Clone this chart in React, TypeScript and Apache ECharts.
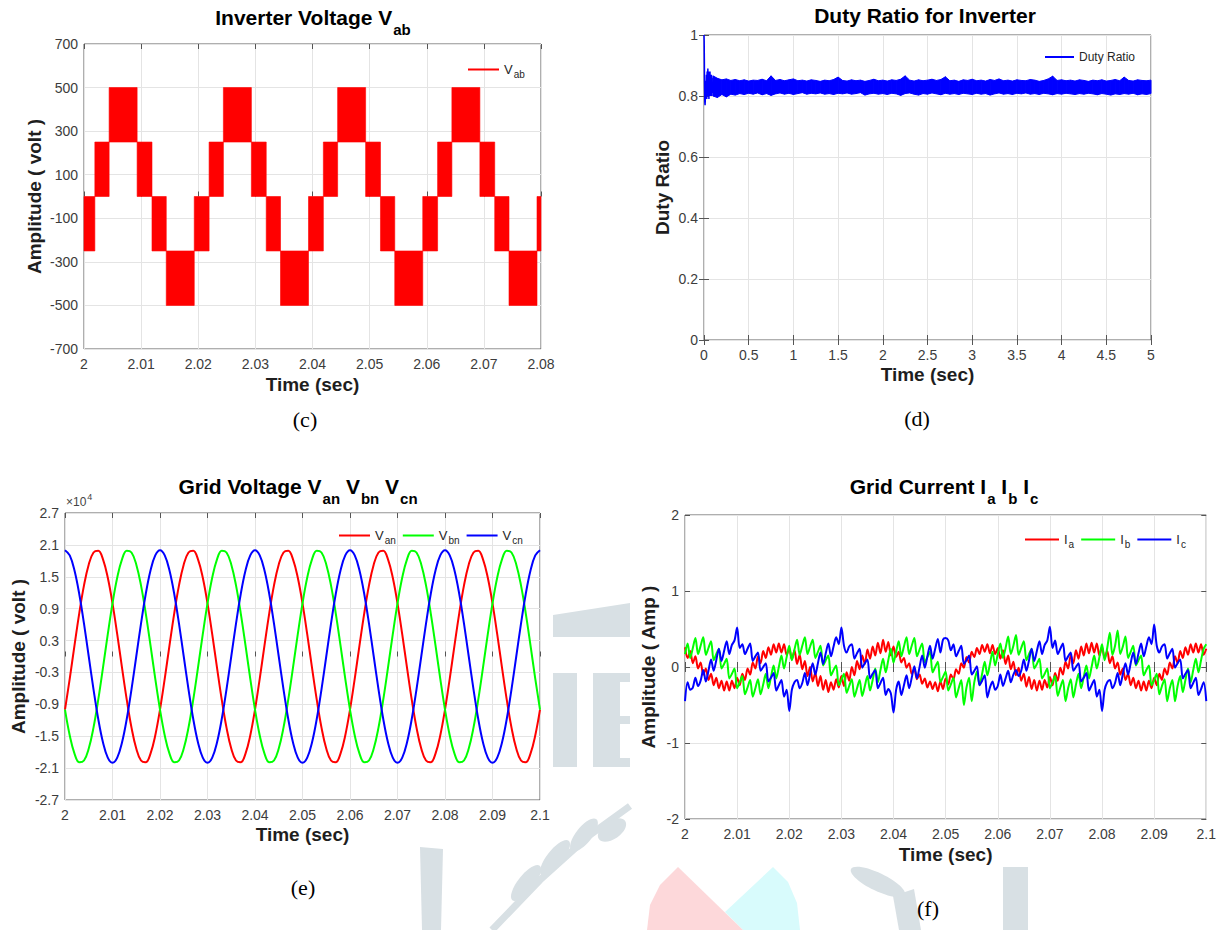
import React, { useEffect, useRef } from 'react';
import * as echarts from 'echarts';

const FONT = "'Liberation Sans', Arial, Helvetica, sans-serif";
const SERIF = "'Liberation Serif', 'Times New Roman', serif";

// ---------- (c) Inverter voltage Vab : PWM level bands ----------
const vabStart = [2.0, 2.0019, 2.0044, 2.0093, 2.0119, 2.0144, 2.0193, 2.0219, 2.0244, 2.0293, 2.0319, 2.0344, 2.0393, 2.0419, 2.0444, 2.0493, 2.0519, 2.0544, 2.0593, 2.0619, 2.0644, 2.0693, 2.0719, 2.0744, 2.0793];
const vabEnd = [2.0019, 2.0044, 2.0093, 2.0119, 2.0144, 2.0193, 2.0219, 2.0244, 2.0293, 2.0319, 2.0344, 2.0393, 2.0419, 2.0444, 2.0493, 2.0519, 2.0544, 2.0593, 2.0619, 2.0644, 2.0693, 2.0719, 2.0744, 2.0793, 2.08];
const vabLow = [-250, 0, 250, 0, -250, -500, -250, 0, 250, 0, -250, -500, -250, 0, 250, 0, -250, -500, -250, 0, 250, 0, -250, -500, -250];
const vabHigh = [0, 250, 500, 250, 0, -250, 0, 250, 500, 250, 0, -250, 0, 250, 500, 250, 0, -250, 0, 250, 500, 250, 0, -250, 0];

// ---------- (d) Duty ratio ----------
const dutyTransT = [0, 0.002, 0.004, 0.006, 0.009, 0.012, 0.015, 0.019, 0.023, 0.027, 0.031, 0.035, 0.039, 0.043, 0.047, 0.051, 0.055, 0.059, 0.063, 0.067, 0.071, 0.075, 0.079, 0.083, 0.087, 0.091, 0.095, 0.1];
const dutyTransV = [1.0, 0.98, 0.92, 0.84, 0.78, 0.77, 0.79, 0.85, 0.8, 0.87, 0.79, 0.88, 0.8, 0.89, 0.81, 0.88, 0.79, 0.87, 0.81, 0.88, 0.8, 0.86, 0.81, 0.87, 0.8, 0.86, 0.81, 0.84];
const dutyBandT0 = 0.1;
const dutyBandStep = 0.05;
const dutyHigh = [
  0.866, 0.858, 0.853, 0.856, 0.851, 0.854, 0.85, 0.853, 0.849, 0.852, 0.851, 0.855, 0.85, 0.866, 0.851, 0.854, 0.85, 0.853,
  0.856, 0.85, 0.852, 0.849, 0.853, 0.851, 0.848, 0.852, 0.85, 0.854, 0.862, 0.851, 0.849, 0.853, 0.85, 0.852, 0.848, 0.851, 0.855, 0.85,
  0.852, 0.849, 0.853, 0.851, 0.855, 0.866, 0.852, 0.849, 0.853, 0.85, 0.852, 0.855, 0.851, 0.854, 0.863, 0.85, 0.852, 0.848, 0.853, 0.851,
  0.855, 0.85, 0.852, 0.849, 0.854, 0.851, 0.856, 0.85, 0.852, 0.849, 0.853, 0.851, 0.85, 0.854, 0.852, 0.848, 0.851, 0.856, 0.865, 0.851,
  0.853, 0.85, 0.852, 0.849, 0.853, 0.851, 0.848, 0.852, 0.85, 0.853, 0.849, 0.851, 0.854, 0.85, 0.862, 0.851, 0.849, 0.853, 0.851, 0.85, 0.852,
];
const dutyLow = [
  0.8, 0.795, 0.805, 0.797, 0.806, 0.803, 0.808, 0.805, 0.809, 0.806, 0.81, 0.804, 0.808, 0.802, 0.807, 0.81, 0.806, 0.809,
  0.805, 0.808, 0.811, 0.806, 0.809, 0.807, 0.81, 0.806, 0.808, 0.805, 0.809, 0.807, 0.81, 0.806, 0.808, 0.811, 0.803, 0.807, 0.809, 0.806,
  0.808, 0.805, 0.809, 0.807, 0.802, 0.808, 0.81, 0.806, 0.803, 0.808, 0.806, 0.81, 0.807, 0.804, 0.809, 0.806, 0.808, 0.805, 0.809, 0.807,
  0.805, 0.809, 0.806, 0.808, 0.803, 0.807, 0.81, 0.806, 0.808, 0.805, 0.809, 0.807, 0.81, 0.806, 0.808, 0.805, 0.809, 0.807, 0.804, 0.808,
  0.806, 0.809, 0.807, 0.805, 0.808, 0.806, 0.809, 0.807, 0.804, 0.808, 0.806, 0.803, 0.807, 0.805, 0.808, 0.806, 0.809, 0.804, 0.807, 0.805, 0.808,
];

// ---------- (e) Grid voltages (volts), sampled every 1 ms from t = 2.000 s ----------
const gridVT0 = 2.0;
const gridVStep = 0.001;
const van = [
  -10000, -4160, 2090, 8130, 13380, 17320, 19560, 19890, 18270, 14860, 10000, 4160, -2090, -8130, -13380, -17320, -19560, -19890, -18270, -14860,
  -10000, -4160, 2090, 8130, 13380, 17320, 19560, 19890, 18270, 14860, 10000, 4160, -2090, -8130, -13380, -17320, -19560, -19890, -18270, -14860,
  -10000, -4160, 2090, 8130, 13380, 17320, 19560, 19890, 18270, 14860, 10000, 4160, -2090, -8130, -13380, -17320, -19560, -19890, -18270, -14860,
  -10000, -4160, 2090, 8130, 13380, 17320, 19560, 19890, 18270, 14860, 10000, 4160, -2090, -8130, -13380, -17320, -19560, -19890, -18270, -14860,
  -10000, -4160, 2090, 8130, 13380, 17320, 19560, 19890, 18270, 14860, 10000, 4160, -2090, -8130, -13380, -17320, -19560, -19890, -18270, -14860,
  -10000,
];
const vbn = [
  -10000, -14860, -18270, -19890, -19560, -17320, -13380, -8130, -2090, 4160, 10000, 14860, 18270, 19890, 19560, 17320, 13380, 8130, 2090, -4160,
  -10000, -14860, -18270, -19890, -19560, -17320, -13380, -8130, -2090, 4160, 10000, 14860, 18270, 19890, 19560, 17320, 13380, 8130, 2090, -4160,
  -10000, -14860, -18270, -19890, -19560, -17320, -13380, -8130, -2090, 4160, 10000, 14860, 18270, 19890, 19560, 17320, 13380, 8130, 2090, -4160,
  -10000, -14860, -18270, -19890, -19560, -17320, -13380, -8130, -2090, 4160, 10000, 14860, 18270, 19890, 19560, 17320, 13380, 8130, 2090, -4160,
  -10000, -14860, -18270, -19890, -19560, -17320, -13380, -8130, -2090, 4160, 10000, 14860, 18270, 19890, 19560, 17320, 13380, 8130, 2090, -4160,
  -10000,
];
const vcn = [
  20000, 19020, 16180, 11760, 6180, 0, -6180, -11760, -16180, -19020, -20000, -19020, -16180, -11760, -6180, 0, 6180, 11760, 16180, 19020,
  20000, 19020, 16180, 11760, 6180, 0, -6180, -11760, -16180, -19020, -20000, -19020, -16180, -11760, -6180, 0, 6180, 11760, 16180, 19020,
  20000, 19020, 16180, 11760, 6180, 0, -6180, -11760, -16180, -19020, -20000, -19020, -16180, -11760, -6180, 0, 6180, 11760, 16180, 19020,
  20000, 19020, 16180, 11760, 6180, 0, -6180, -11760, -16180, -19020, -20000, -19020, -16180, -11760, -6180, 0, 6180, 11760, 16180, 19020,
  20000, 19020, 16180, 11760, 6180, 0, -6180, -11760, -16180, -19020, -20000, -19020, -16180, -11760, -6180, 0, 6180, 11760, 16180, 19020,
  20000,
];

// ---------- (f) Grid currents (A), sampled every 0.5 ms from t = 2.000 s ----------
const gridIT0 = 2.0;
const gridIStep = 0.0005;
const ia = [
  0.26, 0.12, 0.21, 0.05, 0.14, -0.02, 0.06, -0.1, -0.02, -0.17, -0.09, -0.24, -0.14, -0.28, -0.18, -0.31, -0.19, -0.31, -0.18, -0.28, -0.14, -0.24, -0.09, -0.17, -0.02, -0.1, 0.06, -0.02, 0.14, 0.05, 0.21, 0.12, 0.26, 0.16, 0.3, 0.19, 0.31, 0.19, 0.3, 0.16,
  0.24, 0.1, 0.22, 0.04, 0.16, -0.03, 0.08, -0.12, 0, -0.19, -0.08, -0.25, -0.12, -0.3, -0.17, -0.33, -0.2, -0.3, -0.16, -0.27, -0.12, -0.25, -0.07, -0.18, 0, -0.11, 0.08, -0.03, 0.15, 0.04, 0.23, 0.11, 0.27, 0.15, 0.32, 0.18, 0.36, 0.2, 0.33, 0.15,
  0.27, 0.13, 0.2, 0.06, 0.12, -0.01, 0.05, -0.09, -0.03, -0.16, -0.1, -0.22, -0.15, -0.27, -0.19, -0.29, -0.2, -0.32, -0.19, -0.29, -0.15, -0.23, -0.1, -0.16, -0.03, -0.09, 0.05, -0.01, 0.13, 0.06, 0.2, 0.13, 0.25, 0.17, 0.29, 0.2, 0.3, 0.18, 0.29, 0.17,
  0.25, 0.11, 0.22, 0.04, 0.15, -0.03, 0.07, -0.11, -0.01, -0.18, -0.09, -0.26, -0.13, -0.29, -0.17, -0.31, -0.18, -0.3, -0.17, -0.27, -0.13, -0.24, -0.08, -0.18, -0.01, -0.1, 0.07, -0.02, 0.15, 0.05, 0.22, 0.11, 0.27, 0.15, 0.31, 0.18, 0.32, 0.19, 0.31, 0.15,
  0.26, 0.12, 0.21, 0.05, 0.14, -0.02, 0.06, -0.1, -0.02, -0.17, -0.09, -0.24, -0.14, -0.28, -0.18, -0.31, -0.19, -0.31, -0.18, -0.28, -0.14, -0.24, -0.09, -0.17, -0.02, -0.1, 0.06, -0.02, 0.14, 0.05, 0.21, 0.12, 0.26, 0.16, 0.3, 0.19, 0.31, 0.19, 0.3, 0.16,
  0.24,
];
const ib = [
  0.17, 0.31, 0.12, 0.25, 0.38, 0.17, 0.28, 0.39, 0.16, 0.25, 0.34, 0.09, 0.17, 0.24, -0.02, 0.04, 0.11, -0.15, -0.09, -0.02, -0.28, -0.2, -0.12, -0.36, -0.27, -0.17, -0.39, -0.28, -0.16, -0.36, -0.23, -0.09, -0.28, -0.13, 0.02, -0.15, 0, 0.15, -0.02, 0.13,
  0.28, 0.09, 0.23, 0.36, 0.16, 0.28, 0.39, 0.17, 0.27, 0.36, 0.12, 0.2, 0.28, 0.02, 0.09, 0.15, -0.11, -0.04, 0.02, -0.24, -0.17, -0.09, -0.34, -0.25, -0.16, -0.39, -0.28, -0.17, -0.38, -0.25, -0.12, -0.31, -0.17, -0.02, -0.2, -0.04, 0.11, -0.07, 0.09, 0.24,
  0.06, 0.2, 0.34, 0.14, 0.27, 0.39, 0.17, 0.28, 0.38, 0.14, 0.23, 0.31, 0.06, 0.13, 0.2, -0.07, 0, 0.07, -0.2, -0.13, -0.06, -0.31, -0.23, -0.14, -0.4, -0.28, -0.17, -0.5, -0.27, -0.14, -0.45, -0.2, -0.06, -0.24, -0.09, 0.07, -0.11, 0.04, 0.2, 0.02,
  0.17, 0.31, 0.12, 0.25, 0.4, 0.17, 0.28, 0.42, 0.16, 0.25, 0.34, 0.09, 0.17, 0.24, -0.02, 0.04, 0.11, -0.15, -0.09, -0.02, -0.28, -0.2, -0.12, -0.38, -0.27, -0.17, -0.45, -0.28, -0.16, -0.4, -0.23, -0.09, -0.28, -0.13, 0.02, -0.15, 0, 0.15, -0.02, 0.13,
  0.3, 0.09, 0.25, 0.45, 0.16, 0.28, 0.48, 0.17, 0.27, 0.4, 0.12, 0.2, 0.28, 0.02, 0.09, 0.15, -0.11, -0.04, 0.02, -0.24, -0.17, -0.09, -0.36, -0.25, -0.16, -0.45, -0.28, -0.17, -0.45, -0.25, -0.12, -0.33, -0.17, -0.02, -0.2, -0.04, 0.11, -0.07, 0.09, 0.24,
  0.3,
];
const ic = [
  -0.45, -0.2, -0.3, -0.27, -0.14, -0.25, -0.18, -0.04, -0.19, -0.05, 0.1, -0.05, 0.09, 0.24, 0.08, 0.21, 0.34, 0.17, 0.29, 0.35, 0.52, 0.25, 0.3, 0.17, 0.24, 0.31, 0.08, 0.14, 0.19, -0.05, 0, 0.05, -0.19, -0.14, -0.08, -0.31, -0.24, -0.17, -0.39, -0.3,
  -0.58, -0.3, -0.2, -0.17, -0.28, -0.21, -0.08, -0.24, -0.09, 0.05, -0.1, 0.05, 0.19, 0.04, 0.18, 0.31, 0.14, 0.27, 0.39, 0.3, 0.52, 0.28, 0.19, 0.27, 0.3, 0.11, 0.18, 0.24, -0.01, 0.05, 0.1, -0.15, -0.09, -0.04, -0.28, -0.21, -0.14, -0.37, -0.29, -0.35,
  -0.6, -0.3, -0.19, -0.37, -0.24, -0.11, -0.28, -0.14, 0.01, -0.15, 0, 0.15, -0.01, 0.14, 0.28, 0.11, 0.24, 0.37, 0.19, 0.36, 0.38, 0.35, 0.22, 0.3, 0.14, 0.21, 0.28, 0.04, 0.09, 0.15, -0.1, -0.05, 0.01, -0.24, -0.18, -0.11, -0.4, -0.27, -0.19, -0.3,
  -0.25, -0.1, -0.25, -0.15, -0.05, -0.2, -0.1, -0.04, -0.12, -0.05, 0.1, -0.05, 0.09, 0.24, 0.08, 0.21, 0.34, 0.17, 0.29, 0.35, 0.53, 0.25, 0.35, 0.17, 0.24, 0.31, 0.08, 0.14, 0.19, -0.05, 0, 0.05, -0.19, -0.14, -0.08, -0.31, -0.24, -0.17, -0.39, -0.3,
  -0.58, -0.3, -0.2, -0.17, -0.28, -0.21, -0.08, -0.24, -0.09, 0.05, -0.1, 0.05, 0.19, 0.04, 0.18, 0.31, 0.14, 0.27, 0.39, 0.3, 0.56, 0.28, 0.19, 0.27, 0.3, 0.11, 0.18, 0.24, -0.01, 0.05, 0.1, -0.15, -0.09, -0.04, -0.28, -0.21, -0.14, -0.37, -0.29, -0.2,
  -0.45,
];

const RED = '#ff0000';
const GREEN = '#00ff00';
const BLUE = '#0000ff';

function pairs(t0: number, step: number, vals: number[]) {
  return vals.map((v, i) => [Number((t0 + i * step).toFixed(6)), v]);
}

const tickLabel = { color: '#3c3c3c', fontSize: 14, fontFamily: FONT };
const nameStyle = { color: '#1e1e1e', fontSize: 19, fontWeight: 'bold', fontFamily: FONT };
const gridLine = { show: true, lineStyle: { color: '#e4e4e4', width: 1 } };
const tickStyle = { show: true, inside: true, length: 5, lineStyle: { color: '#555', width: 1 } };

function xBottom(gridIndex: number, min: number, max: number, interval: number, gap: number) {
  return {
    type: 'value', gridIndex, min, max, interval, position: 'bottom',
    axisLine: { show: false }, axisTick: tickStyle,
    axisLabel: { ...tickLabel, margin: 8 },
    splitLine: gridLine,
    name: 'Time (sec)', nameLocation: 'middle', nameGap: gap, nameTextStyle: nameStyle,
  };
}
function xTop(gridIndex: number, min: number, max: number, interval: number) {
  return {
    type: 'value', gridIndex, min, max, interval, position: 'top',
    axisLine: { show: false }, axisTick: tickStyle, axisLabel: { show: false }, splitLine: { show: false },
  };
}

const legendRich = {
  m: { fontSize: 13, color: '#262626', fontFamily: FONT, lineHeight: 14, verticalAlign: 'top' },
  s: { fontSize: 10, color: '#262626', fontFamily: FONT, lineHeight: 10, verticalAlign: 'top', padding: [7, 0, 0, 1] },
};
const titleRich = {
  m: { fontSize: 21, fontWeight: 'bold', fontFamily: FONT, lineHeight: 26, verticalAlign: 'top', fill: '#000', color: '#000' },
  s: { fontSize: 15, fontWeight: 'bold', fontFamily: FONT, lineHeight: 16, verticalAlign: 'top', padding: [15, 0, 0, 1], fill: '#000', color: '#000' },
};

function titleText(x: number, y: number, text: string) {
  return {
    type: 'text', x, y, silent: true, z: 10,
    style: { text, rich: titleRich, align: 'center', textAlign: 'center', verticalAlign: 'top', textVerticalAlign: 'top', fill: '#000', font: `bold 21px ${FONT}` },
  };
}
function caption(x: number, y: number, text: string) {
  return {
    type: 'text', x, y, silent: true, z: 10,
    style: { text, font: `22px ${SERIF}`, fill: '#000', align: 'center', textAlign: 'center', verticalAlign: 'middle', textVerticalAlign: 'middle' },
  };
}

const WM_GRAY = '#d8e0e4';
const watermark: any[] = [
  { type: 'polygon', shape: { points: [[553, 615], [630, 603], [630, 637], [553, 637]] } },
  { type: 'rect', shape: { x: 553, y: 673, width: 24, height: 94 } },
  { type: 'rect', shape: { x: 593, y: 673, width: 27, height: 94 } },
  { type: 'rect', shape: { x: 620, y: 673, width: 10, height: 9 } },
  { type: 'rect', shape: { x: 620, y: 716, width: 10, height: 8 } },
  { type: 'rect', shape: { x: 620, y: 758, width: 10, height: 9 } },
  { type: 'polygon', shape: { points: [[420, 847], [443, 849], [441, 930], [422, 930]] } },
  { type: 'polyline', shape: { points: [[492, 930], [540, 880], [590, 835], [630, 806]] }, style: { stroke: WM_GRAY, lineWidth: 7, fill: null } },
  { type: 'ellipse', x: 526, y: 883, rotation: 0.9, shape: { cx: 0, cy: 0, rx: 22, ry: 8 } },
  { type: 'ellipse', x: 555, y: 858, rotation: 0.9, shape: { cx: 0, cy: 0, rx: 22, ry: 8 } },
  { type: 'ellipse', x: 584, y: 835, rotation: 0.9, shape: { cx: 0, cy: 0, rx: 20, ry: 8 } },
  { type: 'ellipse', x: 612, y: 830, rotation: 0.6, shape: { cx: 0, cy: 0, rx: 16, ry: 9 } },
  { type: 'ellipse', x: 878, y: 882, rotation: -0.45, shape: { cx: 0, cy: 0, rx: 30, ry: 9 } },
  { type: 'polygon', shape: { points: [[893, 896], [914, 889], [921, 930], [899, 930]] } },
  { type: 'rect', shape: { x: 1003, y: 867, width: 25, height: 63 } },
].map((e) => ({ silent: true, z: 0, ...e, style: { fill: WM_GRAY, ...(e.style || {}) } }));
watermark.push(
  { type: 'polygon', silent: true, z: 0, shape: { points: [[773, 867], [788, 882], [797, 903], [800, 930], [743, 930], [725, 912]] }, style: { fill: '#d8fbfc' } },
  { type: 'polygon', silent: true, z: 1, shape: { points: [[678, 867], [743, 930], [647, 930], [650, 905], [660, 885]] }, style: { fill: '#fdd8da' } },
);

function buildOption() {
  const vabData = vabStart.map((s, i) => [s, vabEnd[i], vabLow[i], vabHigh[i]]);
  const bandData: number[][] = [];
  for (let i = 0; i < dutyHigh.length - 1; i++) {
    const t0 = Number((dutyBandT0 + i * dutyBandStep).toFixed(4));
    const t1 = Number((dutyBandT0 + (i + 1) * dutyBandStep).toFixed(4));
    bandData.push([t0, dutyLow[i], dutyHigh[i], t1, dutyLow[i + 1], dutyHigh[i + 1]]);
  }
  const transData = dutyTransT.map((t, i) => [t, dutyTransV[i]]);

  const lineBase = { type: 'line', showSymbol: false, symbol: 'none', z: 3 };

  return {
    animation: false,
    backgroundColor: '#ffffff',
    textStyle: { fontFamily: FONT },
    grid: [
      { left: 84, top: 44, width: 457, height: 305, show: true, borderColor: '#5e5e5e', borderWidth: 1, backgroundColor: 'transparent' },
      { left: 704, top: 35, width: 447, height: 305, show: true, borderColor: '#5e5e5e', borderWidth: 1, backgroundColor: 'transparent' },
      { left: 65, top: 513, width: 475, height: 287, show: true, borderColor: '#5e5e5e', borderWidth: 1, backgroundColor: 'transparent' },
      { left: 685, top: 515, width: 522, height: 304, show: true, borderColor: '#5e5e5e', borderWidth: 1, backgroundColor: 'transparent' },
    ],
    xAxis: [
      xBottom(0, 2, 2.08, 0.01, 26),
      xBottom(1, 0, 5, 0.5, 25),
      xBottom(2, 2, 2.1, 0.01, 25),
      xBottom(3, 2, 2.1, 0.01, 26),
      xTop(0, 2, 2.08, 0.01),
      xTop(1, 0, 5, 0.5),
      xTop(2, 2, 2.1, 0.01),
      xTop(3, 2, 2.1, 0.01),
    ],
    yAxis: [
      {
        type: 'value', gridIndex: 0, min: -700, max: 700, interval: 100,
        axisLine: { show: false }, axisTick: { show: false },
        axisLabel: { ...tickLabel, margin: 6, formatter: (v: number) => (Math.round((v + 700) / 100) % 2 === 0 ? String(v) : '') },
        splitLine: { show: true, lineStyle: { color: ['#e4e4e4', 'rgba(0,0,0,0)'], width: 1 } },
        name: 'Amplitude ( volt )', nameLocation: 'middle', nameGap: 40, nameTextStyle: nameStyle,
      },
      {
        type: 'value', gridIndex: 1, min: 0, max: 1, interval: 0.2,
        axisLine: { show: false }, axisTick: tickStyle,
        axisLabel: { ...tickLabel, margin: 6 },
        splitLine: gridLine,
        name: 'Duty Ratio', nameLocation: 'middle', nameGap: 32, nameTextStyle: nameStyle,
      },
      {
        type: 'value', gridIndex: 2, min: -27000, max: 27000, interval: 3000,
        axisLine: { show: false }, axisTick: { show: false },
        axisLabel: { ...tickLabel, margin: 6, formatter: (v: number) => (Math.round((v + 27000) / 3000) % 2 === 0 ? (v / 10000).toFixed(1) : '') },
        splitLine: { show: true, lineStyle: { color: ['#e4e4e4', 'rgba(0,0,0,0)'], width: 1 } },
        name: 'Amplitude ( volt )', nameLocation: 'middle', nameGap: 37, nameTextStyle: nameStyle,
      },
      {
        type: 'value', gridIndex: 3, min: -2, max: 2, interval: 1,
        axisLine: { show: false }, axisTick: tickStyle,
        axisLabel: { ...tickLabel, margin: 6 },
        splitLine: gridLine,
        name: 'Amplitude ( Amp )', nameLocation: 'middle', nameGap: 27, nameTextStyle: nameStyle,
      },
      {
        type: 'value', gridIndex: 1, min: 0, max: 1, interval: 0.2, position: 'right',
        axisLine: { show: false }, axisTick: tickStyle, axisLabel: { show: false }, splitLine: { show: false },
      },
      {
        type: 'value', gridIndex: 3, min: -2, max: 2, interval: 1, position: 'right',
        axisLine: { show: false }, axisTick: tickStyle, axisLabel: { show: false }, splitLine: { show: false },
      },
    ],
    legend: [
      {
        left: 468, top: 62.5, padding: 0, icon: 'rect', itemWidth: 31, itemHeight: 2, selectedMode: false,
        data: ['Vab'], formatter: () => '{m|V}{s|ab}', textStyle: { rich: legendRich },
      },
      {
        left: 1045, top: 51, padding: 0, icon: 'rect', itemWidth: 29, itemHeight: 2, selectedMode: false,
        data: ['Duty Ratio'], textStyle: { fontSize: 12, color: '#262626', fontFamily: FONT },
      },
      {
        left: 339, top: 528.5, padding: 0, icon: 'rect', itemWidth: 31, itemHeight: 2, itemGap: 7, selectedMode: false,
        data: ['Van', 'Vbn', 'Vcn'], formatter: (n: string) => `{m|V}{s|${n.slice(1)}}`, textStyle: { rich: legendRich },
      },
      {
        left: 1025, top: 532.5, padding: 0, icon: 'rect', itemWidth: 34, itemHeight: 2, itemGap: 7, selectedMode: false,
        data: ['Ia', 'Ib', 'Ic'], formatter: (n: string) => `{m|I}{s|${n.slice(1)}}`, textStyle: { rich: legendRich },
      },
    ],
    series: [
      {
        type: 'custom', name: 'Vab', xAxisIndex: 0, yAxisIndex: 0, z: 3,
        itemStyle: { color: RED },
        encode: { x: [0, 1], y: [2, 3] },
        data: vabData,
        renderItem: (params: any, api: any) => {
          const p0 = api.coord([api.value(0), api.value(3)]);
          const p1 = api.coord([api.value(1), api.value(2)]);
          return {
            type: 'rect',
            shape: { x: p0[0], y: p0[1], width: p1[0] - p0[0], height: p1[1] - p0[1] },
            style: { fill: RED, stroke: RED, lineWidth: 0.6 },
          };
        },
      },
      {
        type: 'custom', name: 'Duty Ratio', xAxisIndex: 1, yAxisIndex: 1, z: 3,
        itemStyle: { color: BLUE },
        encode: { x: [0, 3], y: [1, 2, 4, 5] },
        data: bandData,
        renderItem: (params: any, api: any) => {
          const a = api.coord([api.value(0), api.value(2)]);
          const b = api.coord([api.value(3), api.value(5)]);
          const c = api.coord([api.value(3), api.value(4)]);
          const d = api.coord([api.value(0), api.value(1)]);
          return { type: 'polygon', shape: { points: [a, b, c, d] }, style: { fill: BLUE, stroke: BLUE, lineWidth: 1 } };
        },
      },
      { ...lineBase, name: 'Duty Ratio', xAxisIndex: 1, yAxisIndex: 1, data: transData, color: BLUE, lineStyle: { color: BLUE, width: 1.5 } },
      { ...lineBase, name: 'Van', xAxisIndex: 2, yAxisIndex: 2, data: pairs(gridVT0, gridVStep, van), smooth: 0.4, color: RED, lineStyle: { color: RED, width: 2 } },
      { ...lineBase, name: 'Vbn', xAxisIndex: 2, yAxisIndex: 2, data: pairs(gridVT0, gridVStep, vbn), smooth: 0.4, color: GREEN, lineStyle: { color: GREEN, width: 2 } },
      { ...lineBase, name: 'Vcn', xAxisIndex: 2, yAxisIndex: 2, data: pairs(gridVT0, gridVStep, vcn), smooth: 0.4, color: BLUE, lineStyle: { color: BLUE, width: 2 } },
      { ...lineBase, name: 'Ia', xAxisIndex: 3, yAxisIndex: 3, data: pairs(gridIT0, gridIStep, ia), smooth: 0.3, color: RED, lineStyle: { color: RED, width: 2 } },
      { ...lineBase, name: 'Ib', xAxisIndex: 3, yAxisIndex: 3, data: pairs(gridIT0, gridIStep, ib), smooth: 0.3, color: GREEN, lineStyle: { color: GREEN, width: 2 } },
      { ...lineBase, name: 'Ic', xAxisIndex: 3, yAxisIndex: 3, data: pairs(gridIT0, gridIStep, ic), smooth: 0.3, color: BLUE, lineStyle: { color: BLUE, width: 2 } },
    ],
    graphic: [
      ...watermark,
      titleText(313, 6.5, '{m|Inverter Voltage V}{s|ab}'),
      titleText(925, 4.6, '{m|Duty Ratio for Inverter}'),
      titleText(298, 475.6, '{m|Grid Voltage V}{s|an}{m| V}{s|bn}{m| V}{s|cn}'),
      titleText(944, 476.3, '{m|Grid Current I}{s|a}{m| I}{s|b}{m| I}{s|c}'),
      {
        type: 'text', x: 66, y: 492, silent: true, z: 10,
        style: {
          text: '{m|×10}{p|4}', font: `12px ${FONT}`, fill: '#444',
          rich: {
            m: { fontSize: 12, fontFamily: FONT, fill: '#444', color: '#444', lineHeight: 14, verticalAlign: 'top', padding: [4, 0, 0, 0] },
            p: { fontSize: 9, fontFamily: FONT, fill: '#444', color: '#444', lineHeight: 10, verticalAlign: 'top', padding: [0, 0, 0, 1] },
          },
        },
      },
      caption(305, 419, '(c)'),
      caption(917, 418, '(d)'),
      caption(303, 887, '(e)'),
      caption(928, 908, '(f)'),
    ],
  };
}

export default function App() {
  const ref = useRef<HTMLDivElement>(null);
  useEffect(() => {
    if (!ref.current) return;
    const chart = echarts.init(ref.current, null, { renderer: 'svg' });
    chart.setOption(buildOption() as any);
    return () => chart.dispose();
  }, []);
  return (
    <div
      ref={ref}
      style={{ position: 'absolute', left: 0, top: 0, width: 1219, height: 930, background: '#ffffff' }}
    />
  );
}
